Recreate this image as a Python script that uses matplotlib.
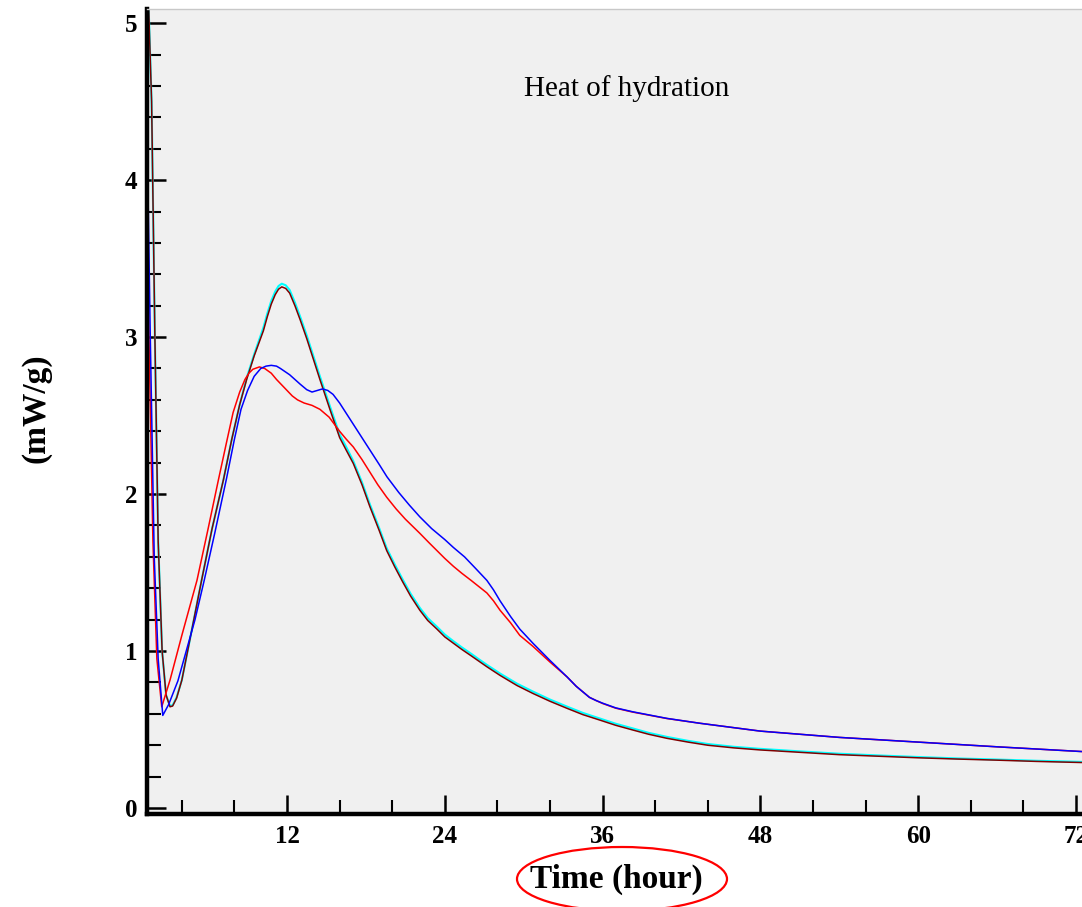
import matplotlib
matplotlib.use("Agg")
import matplotlib.pyplot as plt
from matplotlib.patches import Ellipse
from matplotlib.ticker import MultipleLocator

plt.rcParams['font.family'] = ['Liberation Serif', 'DejaVu Serif']

# ---- data (time in hours, heat flow in mW/g) ----
maroon_t = [1.4, 1.7, 1.95, 2.2, 2.5, 2.8, 3.1, 3.3, 3.6, 4.0, 4.7, 5.5, 6.3, 7.16, 7.8,
            8.4, 8.93, 9.5, 10.2, 10.5, 10.8, 11.1, 11.35, 11.6, 11.9, 12.2, 12.6, 13.0,
            13.5, 14.0, 14.5, 15.3, 16.0, 16.5, 17.04, 17.7, 18.3, 19.0, 19.58, 20.2, 20.8,
            21.4, 22.1, 22.7, 23.4, 24.0, 24.65, 25.3, 26.0, 26.6, 27.2, 28.2, 29.5, 30.7,
            32.0, 33.3, 34.5, 35.8, 37.0, 38.3, 39.5, 40.9, 42.5, 44.0, 46.0, 48.0, 51.0,
            54.0, 57.0, 60.0, 63.0, 66.0, 69.0, 72.4]
maroon_v = [5.3, 4.5, 3.0, 1.7, 1.0, 0.72, 0.645, 0.65, 0.70, 0.815, 1.11, 1.45, 1.78, 2.09,
            2.35, 2.57, 2.73, 2.88, 3.04, 3.13, 3.21, 3.27, 3.305, 3.32, 3.31, 3.28, 3.20,
            3.11, 2.99, 2.86, 2.73, 2.53, 2.36, 2.28, 2.195, 2.06, 1.92, 1.77, 1.64, 1.535,
            1.44, 1.35, 1.26, 1.195, 1.14, 1.09, 1.05, 1.01, 0.97, 0.935, 0.90, 0.845, 0.78,
            0.73, 0.68, 0.635, 0.595, 0.56, 0.527, 0.497, 0.47, 0.444, 0.42, 0.40, 0.383,
            0.37, 0.355, 0.34, 0.33, 0.32, 0.312, 0.305, 0.297, 0.29]

cyan_t = maroon_t
cyan_v = [5.3, 4.5, 3.0, 1.7, 1.0, 0.72, 0.65, 0.655, 0.705, 0.815, 1.11, 1.45, 1.78, 2.09,
          2.35, 2.57, 2.74, 2.89, 3.06, 3.15, 3.23, 3.29, 3.325, 3.34, 3.33, 3.30, 3.22,
          3.13, 3.01, 2.88, 2.75, 2.55, 2.38, 2.30, 2.21, 2.075, 1.935, 1.785, 1.655, 1.55,
          1.455, 1.365, 1.275, 1.21, 1.155, 1.105, 1.063, 1.023, 0.983, 0.947, 0.912, 0.857,
          0.792, 0.742, 0.691, 0.646, 0.606, 0.57, 0.537, 0.507, 0.479, 0.453, 0.428, 0.408,
          0.39, 0.377, 0.361, 0.346, 0.335, 0.325, 0.316, 0.309, 0.301, 0.294]

red_t = [0.9, 1.2, 1.5, 1.8, 2.1, 2.47, 3.1, 4.0, 5.15, 6.0, 6.78, 7.4, 7.9, 8.4, 8.8, 9.1,
         9.4, 9.9, 10.3, 10.8, 11.2, 11.6, 12.0, 12.4, 12.8, 13.3, 13.9, 14.5, 15.2, 16.0,
         16.5, 17.04, 17.7, 18.3, 18.9, 19.58, 20.3, 21.0, 22.1, 22.8, 23.4, 24.0, 24.65,
         25.3, 26.0, 26.6, 27.2, 27.7, 28.2, 29.0, 29.7, 30.7, 32.0, 33.3, 34.0, 34.5, 35.0,
         35.5, 36.0, 37.0, 38.3, 40.9, 43.4, 48.0, 54.0, 60.0, 66.0, 72.4]
red_v = [5.3, 4.5, 3.0, 1.7, 0.95, 0.645, 0.815, 1.1, 1.45, 1.78, 2.09, 2.33, 2.52, 2.65,
         2.73, 2.77, 2.795, 2.81, 2.80, 2.77, 2.73, 2.695, 2.66, 2.625, 2.60, 2.58, 2.565,
         2.54, 2.49, 2.40, 2.35, 2.30, 2.22, 2.14, 2.06, 1.98, 1.905, 1.84, 1.75, 1.69,
         1.64, 1.59, 1.54, 1.495, 1.45, 1.41, 1.37, 1.32, 1.26, 1.18, 1.10, 1.03, 0.93,
         0.835, 0.775, 0.74, 0.705, 0.685, 0.666, 0.636, 0.611, 0.57, 0.54, 0.49, 0.45,
         0.42, 0.39, 0.36]

blue_t = [1.0, 1.3, 1.6, 1.9, 2.2, 2.55, 3.0, 3.7, 4.5, 5.0, 5.7, 6.5, 7.4, 8.0, 8.5, 9.0,
          9.5, 10.0, 10.4, 10.8, 11.2, 11.5, 12.2, 12.6, 13.0, 13.5, 13.9, 14.3, 14.7, 15.1,
          15.5, 16.0, 16.5, 17.0, 17.5, 18.0, 18.5, 19.0, 19.6, 20.5, 21.3, 22.1, 23.0, 24.0,
          24.65, 25.5, 26.3, 27.2, 27.7, 28.2, 29.0, 29.7, 30.7, 32.0, 33.3, 34.0, 34.5, 35.0,
          35.5, 36.0, 37.0, 38.3, 40.9, 43.4, 48.0, 54.0, 60.0, 66.0, 72.4]
blue_v = [5.3, 4.6, 3.0, 1.6, 0.95, 0.59, 0.66, 0.81, 1.05, 1.2, 1.45, 1.75, 2.1, 2.35, 2.54,
          2.66, 2.75, 2.80, 2.815, 2.82, 2.815, 2.80, 2.76, 2.73, 2.70, 2.665, 2.65, 2.66,
          2.67, 2.66, 2.635, 2.58, 2.515, 2.45, 2.385, 2.32, 2.255, 2.19, 2.11, 2.01, 1.93,
          1.855, 1.78, 1.71, 1.66, 1.60, 1.53, 1.45, 1.39, 1.32, 1.22, 1.14, 1.05, 0.94,
          0.835, 0.775, 0.74, 0.705, 0.685, 0.668, 0.638, 0.613, 0.571, 0.54, 0.49, 0.45,
          0.42, 0.39, 0.36]

x_major = [12, 24, 36, 48, 60, 72]
y_major = [0, 1, 2, 3, 4, 5]

fig = plt.figure(figsize=(10.82, 9.07), dpi=100)
ax = fig.add_axes([147 / 1082, 1 - 814 / 907, 1 - 147 / 1082, (814 - 9) / 907])
ax.set_facecolor('#f0f0f0')

lw = 1.1
ax.plot(cyan_t, cyan_v, color='#00ffff', lw=lw + 0.4)
ax.plot(maroon_t, maroon_v, color='#800000', lw=lw)
ax.plot(red_t, red_v, color='#ff0000', lw=lw)
ax.plot(blue_t, blue_v, color='#0000ff', lw=lw)

ax.set_xlim(1.35, 72.46)
ax.set_ylim(-0.038, 5.09)

ax.set_xticks(x_major)
ax.set_yticks(y_major)
ax.xaxis.set_minor_locator(MultipleLocator(4))
ax.yaxis.set_minor_locator(MultipleLocator(0.2))
ax.tick_params(axis='both', which='major', direction='in', length=14, width=1.8,
               color='black', labelsize=18)
ax.tick_params(axis='both', which='minor', direction='in', length=10, width=1.5,
               color='black')
ax.tick_params(axis='x', which='major', pad=8)
ax.tick_params(axis='y', which='major', pad=7)
for lab in ax.get_xticklabels() + ax.get_yticklabels():
    lab.set_fontweight('bold')

for s in ('left', 'bottom'):
    ax.spines[s].set_linewidth(3.2)
    ax.spines[s].set_color('black')
ax.spines['top'].set_color('#c8c8c8')
ax.spines['top'].set_linewidth(1.0)
ax.spines['right'].set_visible(False)

ax.text(627 / 1082, 1 - 89 / 907, 'Heat of hydration', transform=fig.transFigure,
        ha='center', va='center', fontsize=21)

fig.text(616 / 1082, 1 - 879 / 907, 'Time (hour)', ha='center', va='center',
         fontsize=24, fontweight='bold')
fig.text(36 / 1082, 1 - 408 / 907, '(mW/g)', ha='center', va='center',
         fontsize=24, fontweight='bold', rotation=90)

ell = Ellipse((622 / 1082, 1 - 879 / 907), 210 / 1082, 64 / 907,
              transform=fig.transFigure, fill=False, edgecolor='#ff0000', lw=1.6)
fig.patches.append(ell)

fig.savefig('out.png', dpi=100)
